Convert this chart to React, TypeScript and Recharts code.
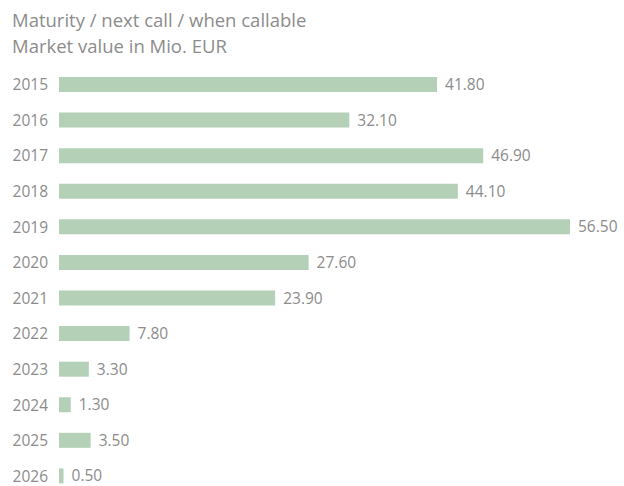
import { BarChart, Bar, XAxis, YAxis, LabelList } from 'recharts'

const years = ['2015', '2016', '2017', '2018', '2019', '2020', '2021', '2022', '2023', '2024', '2025', '2026']
const marketValues = [41.8, 32.1, 46.9, 44.1, 56.5, 27.6, 23.9, 7.8, 3.3, 1.3, 3.5, 0.5]

const data = years.map((year, i) => ({ year, value: marketValues[i] }))

const GRAY = '#8c8c8c'
const FONT = '"Open Sans", "Noto Sans", sans-serif'

export default function App() {
  return (
    <div style={{ position: 'absolute', left: 0, top: 0, width: 624, height: 486, overflow: 'hidden', fontFamily: FONT, background: '#fff' }}>
      <div style={{ position: 'absolute', left: 12, top: 7, color: GRAY, fontSize: 18.5, lineHeight: '26px' }}>
        <div>Maturity / next call / when callable</div>
        <div>Market value in Mio. EUR</div>
      </div>
      <div style={{ position: 'absolute', left: 0, top: 0 }}>
        <BarChart
          width={624}
          height={500}
          data={data}
          layout="vertical"
          margin={{ top: 67, right: 54, bottom: 6, left: 0 }}
        >
          <XAxis type="number" domain={[0, 56.5]} hide />
          <YAxis
            type="category"
            dataKey="year"
            width={59}
            axisLine={false}
            tickLine={false}
            tickMargin={5}
            tick={{ fill: GRAY, fontSize: 15.5, fontFamily: FONT }}
          />
          <Bar dataKey="value" fill="#b4d0b7" barSize={15} isAnimationActive={false}>
            <LabelList
              dataKey="value"
              position="right"
              offset={8}
              formatter={(v: number) => v.toFixed(2)}
              style={{ fill: GRAY, fontSize: 15.5, fontFamily: FONT }}
            />
          </Bar>
        </BarChart>
      </div>
    </div>
  )
}
